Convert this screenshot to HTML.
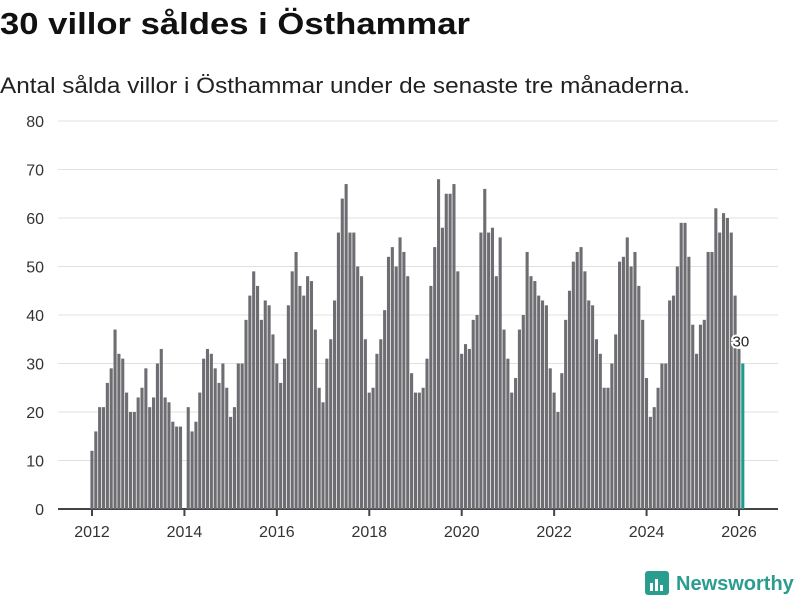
<!DOCTYPE html>
<html><head><meta charset="utf-8"><style>
body{margin:0;background:#fff;width:800px;height:600px;overflow:hidden;font-family:"Liberation Sans",sans-serif}
</style></head><body>
<svg width="800" height="600" style="position:absolute;left:0;top:0">
<text x="0" y="34" font-size="31" font-weight="bold" fill="#111" textLength="470" lengthAdjust="spacingAndGlyphs">30 villor såldes i Östhammar</text>
<text x="0" y="93" font-size="22" fill="#222" textLength="690" lengthAdjust="spacingAndGlyphs">Antal sålda villor i Östhammar under de senaste tre månaderna.</text>
<g id="grid"></g><g id="bars"></g><g id="xaxis"></g>
<g>
<rect x="645" y="571" width="24" height="24" rx="3" fill="#2a9d8f"/>
<rect x="650" y="583" width="3" height="8" fill="#fff"/><rect x="655" y="579" width="3" height="12" fill="#fff"/><rect x="660" y="585" width="3" height="6" fill="#fff"/>
<text x="676" y="590" font-size="20" font-weight="bold" fill="#2a9d8f">Newsworthy</text>
</g>
</svg>
<script>
const yTicks=[0,10,20,30,40,50,60,70,80];
const xTickLabels=["2012","2014","2016","2018","2020","2022","2024","2026"];
const startYear=2012;
const values=[12,16,21,21,26,29,37,32,31,24,20,20,
23,25,29,21,23,30,33,23,22,18,17,17,
0,21,16,18,24,31,33,32,29,26,30,25,
19,21,30,30,39,44,49,46,39,43,42,36,
30,26,31,42,49,53,46,44,48,47,37,25,
22,31,35,43,57,64,67,57,57,50,48,35,
24,25,32,35,41,52,54,50,56,53,48,28,
24,24,25,31,46,54,68,58,65,65,67,49,
32,34,33,39,40,57,66,57,58,48,56,37,
31,24,27,37,40,53,48,47,44,43,42,29,
24,20,28,39,45,51,53,54,49,43,42,35,
32,25,25,30,36,51,52,56,50,53,46,39,
27,19,21,25,30,30,43,44,50,59,59,52,
38,32,38,39,53,53,62,57,61,60,57,44,
33,30];
const NS="http://www.w3.org/2000/svg";
const y=v=>509-v*(388/80);
const x=i=>92+i*(647/168);
function mk(t,a,p){const e=document.createElementNS(NS,t);for(const k in a)e.setAttribute(k,a[k]);p.appendChild(e);return e;}
const grid=document.getElementById('grid'),bars=document.getElementById('bars'),xa=document.getElementById('xaxis');
yTicks.forEach(v=>{
 const l=mk('line',{x1:58,x2:778,y1:y(v),y2:y(v),stroke:v?'#e0e0e0':'#444','stroke-width':v?1:2},grid);
 
 
 const t=mk('text',{x:44,y:y(v)+6,'text-anchor':'end','font-size':16,fill:'#333'},grid);
 t.textContent=v;
 
 
});
values.forEach((v,i)=>{
 const last=i===values.length-1;
 const r=mk('rect',{x:x(i)-1.6,y:y(v),width:3.1,height:509-y(v),fill:last?'#1a9c8f':'#6e6d72'},bars);
 
 
 if(last){
  const t=mk('text',{x:x(i)-2,y:y(v)-17,'text-anchor':'middle','font-size':15,fill:'#222',stroke:'#fff','stroke-width':4,'paint-order':'stroke'},bars);
  t.textContent=v;
  
  
 }
});
xTickLabels.forEach(lbl=>{
 const i=(parseInt(lbl)-startYear)*12;
 mk('line',{x1:x(i),x2:x(i),y1:510,y2:516,stroke:'#444','stroke-width':2},xa);
 const t=mk('text',{x:x(i),y:537,'text-anchor':'middle','font-size':16,fill:'#333'},xa);
 t.textContent=lbl;
 
 
});
</script>
</body></html>
